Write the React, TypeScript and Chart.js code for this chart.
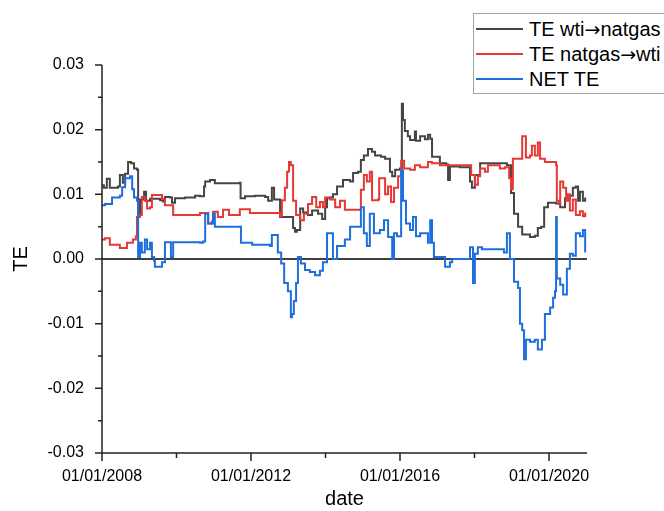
import React, { useEffect, useRef } from "react";
import { Chart, registerables } from "chart.js";

Chart.register(...registerables);

// ---- data (decimal years, TE values) ----
const wtiNatgasDates = [2008.00, 2008.05, 2008.13, 2008.21, 2008.43, 2008.48, 2008.56, 2008.62, 2008.70, 2008.78, 2008.86, 2008.94, 2008.97, 2009.02, 2009.13, 2009.18, 2009.29, 2009.56, 2009.64, 2009.69, 2009.83, 2009.88, 2009.96, 2010.23, 2010.50, 2010.63, 2010.74, 2010.77, 2010.90, 2011.03, 2011.70, 2011.72, 2011.84, 2012.11, 2012.38, 2012.46, 2012.56, 2012.62, 2012.78, 2012.97, 2013.13, 2013.18, 2013.23, 2013.32, 2013.40, 2013.53, 2013.64, 2013.80, 2013.91, 2013.99, 2014.04, 2014.12, 2014.20, 2014.31, 2014.47, 2014.66, 2014.74, 2014.87, 2014.95, 2015.03, 2015.14, 2015.25, 2015.33, 2015.49, 2015.60, 2015.73, 2015.79, 2015.87, 2016.00, 2016.05, 2016.08, 2016.13, 2016.21, 2016.27, 2016.40, 2016.43, 2016.54, 2016.67, 2016.75, 2016.81, 2016.86, 2017.07, 2017.24, 2017.29, 2017.34, 2017.61, 2017.83, 2017.88, 2017.93, 2018.01, 2018.15, 2018.68, 2018.87, 2018.98, 2019.06, 2019.17, 2019.28, 2019.49, 2019.62, 2019.70, 2019.79, 2019.87, 2019.97, 2020.19, 2020.30, 2020.43, 2020.56, 2020.64, 2020.72, 2020.78, 2020.83, 2020.91, 2020.97];
const wtiNatgasValues = [0.0114, 0.0110, 0.0124, 0.0110, 0.0112, 0.0130, 0.0118, 0.0132, 0.0150, 0.0148, 0.0140, 0.0138, 0.0065, 0.0092, 0.0104, 0.0090, 0.0093, 0.0091, 0.0089, 0.0096, 0.0095, 0.0087, 0.0094, 0.0095, 0.0098, 0.0097, 0.0112, 0.0120, 0.0122, 0.0117, 0.0118, 0.0094, 0.0097, 0.0098, 0.0096, 0.0090, 0.0110, 0.0092, 0.0065, 0.0065, 0.0048, 0.0042, 0.0045, 0.0078, 0.0072, 0.0068, 0.0075, 0.0070, 0.0062, 0.0080, 0.0094, 0.0095, 0.0100, 0.0112, 0.0122, 0.0120, 0.0133, 0.0135, 0.0153, 0.0160, 0.0170, 0.0166, 0.0160, 0.0158, 0.0155, 0.0135, 0.0128, 0.0138, 0.0140, 0.0240, 0.0215, 0.0198, 0.0190, 0.0184, 0.0197, 0.0183, 0.0190, 0.0185, 0.0192, 0.0186, 0.0158, 0.0148, 0.0146, 0.0122, 0.0143, 0.0142, 0.0142, 0.0120, 0.0110, 0.0130, 0.0148, 0.0148, 0.0145, 0.0102, 0.0070, 0.0050, 0.0038, 0.0034, 0.0036, 0.0048, 0.0050, 0.0080, 0.0087, 0.0086, 0.0080, 0.0094, 0.0098, 0.0110, 0.0112, 0.0090, 0.0104, 0.0090, 0.0095];

const natgasWtiDates = [2008.00, 2008.08, 2008.21, 2008.48, 2008.67, 2008.83, 2008.91, 2008.94, 2009.02, 2009.07, 2009.15, 2009.21, 2009.29, 2009.34, 2009.56, 2009.61, 2009.69, 2009.88, 2009.91, 2010.36, 2010.63, 2010.82, 2010.85, 2010.95, 2010.98, 2011.09, 2011.11, 2011.22, 2011.25, 2011.38, 2011.41, 2011.65, 2011.70, 2011.92, 2011.97, 2012.72, 2012.78, 2012.83, 2012.91, 2012.97, 2013.02, 2013.07, 2013.13, 2013.21, 2013.32, 2013.42, 2013.53, 2013.64, 2013.75, 2013.85, 2013.93, 2013.99, 2014.12, 2014.26, 2014.39, 2014.52, 2014.95, 2015.03, 2015.11, 2015.19, 2015.25, 2015.41, 2015.44, 2015.54, 2015.60, 2015.68, 2015.76, 2015.84, 2015.95, 2016.03, 2016.11, 2016.27, 2016.40, 2016.54, 2016.75, 2016.86, 2017.07, 2017.83, 2017.91, 2018.01, 2018.09, 2018.15, 2018.28, 2018.36, 2018.68, 2018.82, 2018.93, 2018.98, 2019.03, 2019.22, 2019.28, 2019.36, 2019.38, 2019.49, 2019.54, 2019.62, 2019.70, 2019.76, 2019.89, 2020.19, 2020.21, 2020.27, 2020.30, 2020.38, 2020.46, 2020.51, 2020.56, 2020.64, 2020.72, 2020.83, 2020.91, 2020.97];
const natgasWtiValues = [0.0030, 0.0032, 0.0022, 0.0017, 0.0025, 0.0030, 0.0035, 0.0065, 0.0068, 0.0096, 0.0090, 0.0078, 0.0080, 0.0099, 0.0099, 0.0093, 0.0083, 0.0083, 0.0068, 0.0068, 0.0071, 0.0071, 0.0055, 0.0058, 0.0073, 0.0073, 0.0065, 0.0065, 0.0076, 0.0076, 0.0068, 0.0068, 0.0077, 0.0077, 0.0071, 0.0071, 0.0066, 0.0091, 0.0110, 0.0135, 0.0150, 0.0145, 0.0090, 0.0068, 0.0060, 0.0070, 0.0085, 0.0096, 0.0080, 0.0088, 0.0080, 0.0095, 0.0092, 0.0080, 0.0090, 0.0076, 0.0107, 0.0130, 0.0120, 0.0135, 0.0091, 0.0092, 0.0125, 0.0125, 0.0100, 0.0112, 0.0088, 0.0110, 0.0128, 0.0152, 0.0140, 0.0138, 0.0145, 0.0142, 0.0150, 0.0148, 0.0145, 0.0145, 0.0130, 0.0115, 0.0128, 0.0140, 0.0135, 0.0145, 0.0140, 0.0142, 0.0125, 0.0108, 0.0155, 0.0155, 0.0190, 0.0190, 0.0157, 0.0160, 0.0175, 0.0160, 0.0180, 0.0155, 0.0150, 0.0145, 0.0090, 0.0085, 0.0120, 0.0110, 0.0090, 0.0100, 0.0075, 0.0092, 0.0068, 0.0074, 0.0066, 0.0072];

const netDates = [2008.00, 2008.08, 2008.21, 2008.27, 2008.48, 2008.54, 2008.62, 2008.75, 2008.81, 2008.86, 2008.94, 2008.97, 2009.02, 2009.07, 2009.15, 2009.21, 2009.29, 2009.34, 2009.40, 2009.42, 2009.56, 2009.61, 2009.69, 2009.83, 2009.85, 2009.91, 2010.09, 2010.63, 2010.71, 2010.77, 2010.85, 2010.98, 2011.03, 2011.70, 2011.73, 2012.03, 2012.51, 2012.56, 2012.67, 2012.72, 2012.81, 2012.89, 2012.99, 2013.07, 2013.10, 2013.15, 2013.21, 2013.26, 2013.34, 2013.45, 2013.58, 2013.72, 2013.85, 2013.93, 2014.04, 2014.20, 2014.31, 2014.52, 2014.66, 2014.93, 2014.95, 2015.03, 2015.11, 2015.19, 2015.30, 2015.46, 2015.57, 2015.68, 2015.79, 2015.84, 2015.92, 2016.03, 2016.08, 2016.16, 2016.27, 2016.35, 2016.43, 2016.54, 2016.75, 2016.81, 2016.86, 2016.91, 2017.07, 2017.21, 2017.34, 2017.40, 2017.83, 2017.88, 2017.96, 2018.01, 2018.09, 2018.20, 2018.68, 2018.79, 2018.87, 2018.95, 2019.06, 2019.17, 2019.22, 2019.28, 2019.33, 2019.38, 2019.49, 2019.62, 2019.70, 2019.81, 2019.89, 2020.03, 2020.11, 2020.16, 2020.19, 2020.21, 2020.30, 2020.38, 2020.48, 2020.56, 2020.64, 2020.72, 2020.83, 2020.91, 2020.97];
const netValues = [0.0083, 0.0085, 0.0085, 0.0095, 0.0098, 0.0111, 0.0125, 0.0128, 0.0108, 0.0095, 0.0090, 0.0003, 0.0025, 0.0010, 0.0030, 0.0015, 0.0025, 0.0003, -0.0003, -0.0012, -0.0012, -0.0005, 0.0026, 0.0026, 0.0003, 0.0026, 0.0026, 0.0025, 0.0027, 0.0070, 0.0055, 0.0070, 0.0050, 0.0050, 0.0025, 0.0022, 0.0020, 0.0037, 0.0037, 0.0010, -0.0007, -0.0037, -0.0050, -0.0090, -0.0085, -0.0065, -0.0037, 0.0003, -0.0007, -0.0017, -0.0020, -0.0025, -0.0018, -0.0005, 0.0040, 0.0000, 0.0020, 0.0030, 0.0050, 0.0050, 0.0080, 0.0040, 0.0020, 0.0070, 0.0040, 0.0045, 0.0060, 0.0034, 0.0000, 0.0040, 0.0035, 0.0137, 0.0090, 0.0055, 0.0045, 0.0065, 0.0035, 0.0040, 0.0025, 0.0060, 0.0025, 0.0003, 0.0003, -0.0012, -0.0005, 0.0000, 0.0000, 0.0018, -0.0037, 0.0008, 0.0018, 0.0015, 0.0015, 0.0010, 0.0040, 0.0000, -0.0035, -0.0045, -0.0100, -0.0110, -0.0155, -0.0125, -0.0128, -0.0125, -0.0140, -0.0125, -0.0085, -0.0075, -0.0060, -0.0050, 0.0065, -0.0030, -0.0040, -0.0055, -0.0015, 0.0008, 0.0005, 0.0040, 0.0035, 0.0045, 0.0010];

const seriesLabelParts = [
  ["TE wti", "natgas"],
  ["TE natgas", "wti"],
  ["NET TE", ""],
];
const seriesLabels = ["TE wti\u2192natgas", "TE natgas\u2192wti", "NET TE"];
const seriesColors = ["#454545", "#e53935", "#1e6fdc"];

const xMajorTicks = [2008, 2012, 2016, 2020];
const xMinorTicks = [2010, 2014, 2018];
const yMajorTicks = [-0.03, -0.02, -0.01, 0, 0.01, 0.02, 0.03];
const yMinorTicks = [-0.025, -0.015, -0.005, 0.005, 0.015, 0.025];

const FONT = "'Liberation Sans', Arial, sans-serif";

const toPoints = (xs: number[], ys: number[]) => xs.map((x, i) => ({ x, y: ys[i] }));

const axesPlugin = {
  id: "originAxes",
  beforeDatasetsDraw(chart: any) {
    const { ctx, chartArea, scales } = chart;
    const y0 = scales.y.getPixelForValue(0);
    ctx.save();
    ctx.strokeStyle = "#000";
    ctx.lineWidth = 1.5;
    ctx.beginPath();
    ctx.moveTo(chartArea.left, y0);
    ctx.lineTo(chartArea.right, y0);
    ctx.stroke();
    ctx.restore();
  },
  afterDraw(chart: any) {
    const { ctx, chartArea, scales } = chart;
    const { left, right, top, bottom } = chartArea;
    ctx.save();
    ctx.strokeStyle = "#222";
    ctx.lineWidth = 1.5;
    ctx.beginPath();
    ctx.moveTo(left, top);
    ctx.lineTo(left, bottom);
    ctx.moveTo(left, bottom);
    ctx.lineTo(right, bottom);
    for (const v of yMajorTicks) {
      const p = scales.y.getPixelForValue(v);
      ctx.moveTo(left - 7, p);
      ctx.lineTo(left, p);
    }
    for (const v of yMinorTicks) {
      const p = scales.y.getPixelForValue(v);
      ctx.moveTo(left - 4, p);
      ctx.lineTo(left, p);
    }
    for (const v of xMajorTicks) {
      const p = scales.x.getPixelForValue(v);
      ctx.moveTo(p, bottom);
      ctx.lineTo(p, bottom + 8);
    }
    for (const v of xMinorTicks) {
      const p = scales.x.getPixelForValue(v);
      ctx.moveTo(p, bottom);
      ctx.lineTo(p, bottom + 5);
    }
    ctx.stroke();
    ctx.restore();
  },
};

export default function App() {
  const canvasRef = useRef<HTMLCanvasElement | null>(null);

  useEffect(() => {
    const canvas = canvasRef.current;
    if (!canvas) return;
    const datasetsSrc = [
      toPoints(wtiNatgasDates, wtiNatgasValues),
      toPoints(natgasWtiDates, natgasWtiValues),
      toPoints(netDates, netValues),
    ];
    const chart = new Chart(canvas, {
      type: "line",
      data: {
        datasets: datasetsSrc.map((d, i) => ({
          label: seriesLabels[i],
          data: d,
          borderColor: seriesColors[i],
          backgroundColor: seriesColors[i],
          borderWidth: 2,
          pointRadius: 0,
          stepped: true,
          fill: false,
          order: 3 - i,
        })),
      },
      options: {
        responsive: false,
        animation: false,
        parsing: true,
        layout: { padding: { top: 65, right: 77, bottom: 0, left: 0 } },
        plugins: { legend: { display: false }, tooltip: { enabled: false } },
        scales: {
          x: {
            type: "linear",
            min: 2008,
            max: 2021.02,
            grid: { display: false },
            border: { display: false },
            afterFit: (s: any) => { s.height = 58; },
            ticks: {
              stepSize: 4,
              includeBounds: false,
              autoSkip: false,
              maxRotation: 0,
              padding: 6,
              color: "#000",
              font: { family: FONT, size: 16 },
              callback: (v: any) => (xMajorTicks.includes(Number(v)) ? "01/01/" + v : ""),
            },
            title: {
              display: true,
              text: "date",
              color: "#000",
              font: { family: FONT, size: 20 },
              padding: { top: 0, bottom: 0 },
            },
          },
          y: {
            min: -0.03,
            max: 0.03,
            grid: { display: false },
            border: { display: false },
            afterFit: (s: any) => { s.width = 102; },
            ticks: {
              stepSize: 0.01,
              padding: 10,
              color: "#000",
              font: { family: FONT, size: 16 },
              callback: (v: any) => (Math.abs(Number(v)) < 1e-9 ? "0.00" : Number(v).toFixed(2)),
            },
            title: {
              display: true,
              text: "TE",
              color: "#000",
              font: { family: FONT, size: 20 },
              padding: { top: 9, bottom: 0 },
            },
          },
        },
      },
      plugins: [axesPlugin],
    });
    return () => chart.destroy();
  }, []);

  const rowTops = [3, 28, 53];

  return (
    <div
      style={{
        position: "fixed",
        left: 0,
        top: 0,
        width: 664,
        height: 511,
        overflow: "hidden",
        background: "#fff",
      }}
    >
      <canvas ref={canvasRef} width={664} height={511} style={{ display: "block" }} />
      <div
        style={{
          position: "absolute",
          left: 473,
          top: 13,
          width: 230,
          height: 81,
          border: "1px solid #a0a0a0",
          background: "#fff",
          boxSizing: "border-box",
          fontFamily: FONT,
          fontSize: 20,
          color: "#000",
        }}
      >
        {seriesLabelParts.map((parts, i) => (
          <div
            key={seriesLabels[i]}
            style={{
              position: "absolute",
              left: 0,
              top: rowTops[i],
              height: 24,
              display: "flex",
              alignItems: "center",
              whiteSpace: "nowrap",
            }}
          >
            <span
              style={{
                display: "inline-block",
                width: 47,
                height: 0,
                borderTop: `2px solid ${seriesColors[i]}`,
                marginLeft: 2,
                marginRight: 6,
              }}
            />
            <span style={{ lineHeight: "24px" }}>
              {parts[0]}
              {parts[1] ? (
                <>
                  <span style={{ fontFamily: "'DejaVu Sans', sans-serif", fontSize: 19 }}>{"\u2192"}</span>
                  {parts[1]}
                </>
              ) : null}
            </span>
          </div>
        ))}
      </div>
    </div>
  );
}
